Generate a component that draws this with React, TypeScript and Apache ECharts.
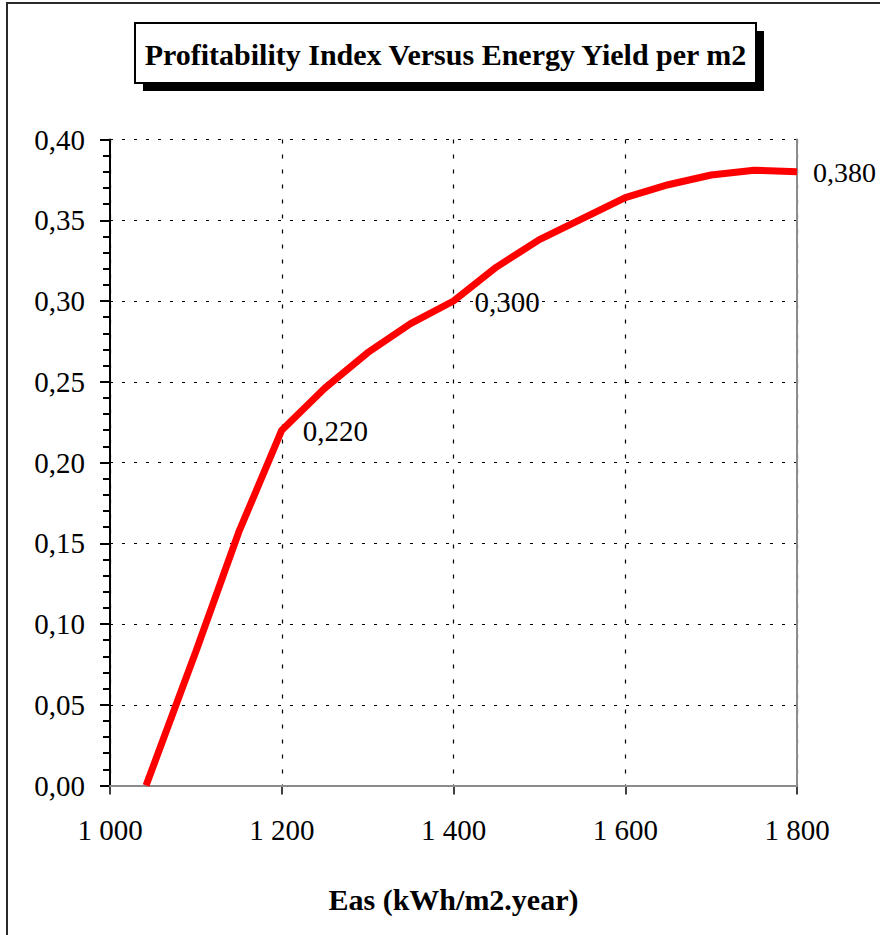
import React, { useEffect, useRef } from "react";
import * as echarts from "echarts";

// Energy yield (kWh/m2.year) and profitability index
const energyYield = [1042, 1100, 1150, 1200, 1250, 1300, 1350, 1400, 1450, 1500, 1550, 1600, 1650, 1700, 1750, 1800];
const profitabilityIndex = [0, 0.083, 0.157, 0.22, 0.246, 0.268, 0.286, 0.3, 0.321, 0.338, 0.351, 0.364, 0.372, 0.378, 0.381, 0.38];
const labelledYields = [1200, 1400, 1800];

const titleText = "Profitability Index Versus Energy Yield per m2";
const xAxisName = "Eas (kWh/m2.year)";

const FONT = "'Liberation Serif', 'Times New Roman', serif";

const fmtX = (v: number) => `${Math.floor(v / 1000)} ${String(v % 1000).padStart(3, "0")}`;
const fmtY = (v: number) => v.toFixed(2).replace(".", ",");
const fmtLabel = (v: number) => v.toFixed(3).replace(".", ",");

export default function App() {
  const ref = useRef<HTMLDivElement>(null);

  useEffect(() => {
    document.body.style.margin = "0";
    if (!ref.current) return;
    const chart = echarts.init(ref.current, undefined, { renderer: "svg" });

    const lineData = energyYield.map((x, i) => [x, profitabilityIndex[i]]);
    const lastYield = energyYield[energyYield.length - 1];
    const labelData = energyYield
      .map((x, i) => [x, profitabilityIndex[i]])
      .filter((p) => labelledYields.includes(p[0]))
      .map((p) =>
        p[0] === lastYield
          ? { value: p, label: { distance: 16, fontSize: 28 } }
          : { value: p }
      );

    const hiddenAxisBase = {
      type: "value" as const,
      axisTick: { show: false },
      axisLabel: { show: false },
      splitLine: { show: false },
      axisLine: { show: true, lineStyle: { color: "#8c8c8c", width: 2 } },
      z: 1,
    };

    chart.setOption({
      animation: false,
      backgroundColor: "#ffffff",
      grid: { left: 110, right: 83, top: 139.5, bottom: 149.5, containLabel: false },
      graphic: [
        {
          type: "rect",
          shape: { x: 7, y: 3, width: 1000, height: 1000 },
          style: { fill: "none", stroke: "#2a2a2a", lineWidth: 2 },
          z: 0,
        },
        {
          type: "rect",
          shape: { x: 143, y: 31, width: 621, height: 60 },
          style: { fill: "#000000" },
          z: 10,
        },
        {
          type: "rect",
          shape: { x: 135, y: 23, width: 621, height: 60 },
          style: { fill: "#ffffff", stroke: "#000000", lineWidth: 2 },
          z: 11,
        },
        {
          type: "text",
          x: 445.5,
          y: 54,
          style: {
            text: titleText,
            fill: "#000000",
            font: `bold 30px ${FONT}`,
            textAlign: "center",
            textVerticalAlign: "middle",
          },
          z: 12,
        },
      ],
      xAxis: [
        {
          type: "value",
          min: 1000,
          max: 1800,
          interval: 200,
          name: xAxisName,
          nameLocation: "middle",
          nameGap: 99,
          nameTextStyle: { fontFamily: FONT, fontWeight: "bold", fontSize: 30, color: "#000" },
          axisLine: { show: true, onZero: false, lineStyle: { color: "#000", width: 2 } },
          axisTick: { show: true, length: 9, lineStyle: { color: "#000", width: 1.5 } },
          axisLabel: { margin: 30, fontSize: 29, fontFamily: FONT, color: "#000", formatter: fmtX },
          splitLine: { show: true, lineStyle: { color: "#000", width: 1.2, type: [4, 11] } },
          z: 0,
        },
        { ...hiddenAxisBase, min: 1000, max: 1800, position: "top" },
      ],
      yAxis: [
        {
          type: "value",
          min: 0,
          max: 0.4,
          interval: 0.05,
          axisLine: { show: true, onZero: false, lineStyle: { color: "#000", width: 2 } },
          axisTick: { show: true, length: 10, lineStyle: { color: "#000", width: 2 } },
          minorTick: { show: true, splitNumber: 5, length: 7, lineStyle: { color: "#000", width: 2 } },
          axisLabel: { margin: 25, fontSize: 29, fontFamily: FONT, color: "#000", formatter: fmtY },
          splitLine: { show: true, lineStyle: { color: "#000", width: 1.2, type: [3, 9] } },
          z: 0,
        },
        { ...hiddenAxisBase, min: 0, max: 0.4, position: "right" },
      ],
      series: [
        {
          type: "line",
          data: lineData,
          symbol: "none",
          lineStyle: { color: "#ff0000", width: 7 },
          z: 3,
        },
        {
          type: "scatter",
          data: labelData,
          symbolSize: 0.1,
          itemStyle: { color: "#ff0000", opacity: 1 },
          label: {
            show: true,
            position: "right",
            distance: 21,
            offset: [0, 1],
            fontSize: 29,
            fontFamily: FONT,
            color: "#000000",
            opacity: 1,
            formatter: (p: any) => fmtLabel(p.value[1]),
          },
          emphasis: { disabled: true },
          z: 4,
        },
      ],
    });

    return () => chart.dispose();
  }, []);

  return <div ref={ref} style={{ width: 880, height: 935 }} />;
}
